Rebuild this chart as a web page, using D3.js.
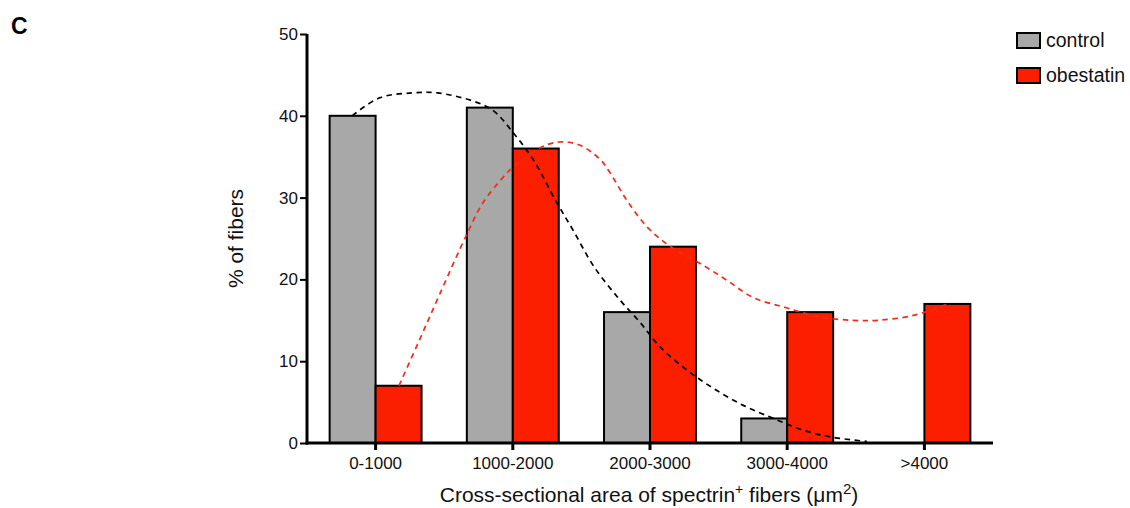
<!DOCTYPE html>
<html><head><meta charset="utf-8">
<script src="https://cdn.jsdelivr.net/npm/d3@7"></script>
<style>
body{margin:0;background:#fff;}
svg{display:block;font-family:"Liberation Sans",Arial,sans-serif;}
</style></head>
<body><svg id="chart" width="1130" height="508"></svg>
<script>
const categories = ["0-1000","1000-2000","2000-3000","3000-4000",">4000"];
const seriesNames = ["control","obestatin"];
const controlValues = [40, 41, 16, 3, 0];
const obestatinValues = [7, 36, 24, 16, 17];
const yTicks = [0,10,20,30,40,50];
// fitted curves: x in bin-index units (0 = centre of first bin), y in %
const controlCurveX = [-0.17,0.03,0.27,0.45,0.71,0.86,1.00,1.15,1.32,1.44,1.59,1.78,1.93,2.07,2.27,2.46,2.68,2.90,3.11,3.33,3.58];
const controlCurveY = [40.0,42.2,42.8,42.8,41.8,40.6,38.0,34.6,29.4,26.0,21.6,17.5,14.7,11.8,8.9,6.7,4.6,3.0,1.6,0.7,0.2];
const obestatinCurveX = [0.17,0.32,0.47,0.67,0.78,0.93,1.00,1.20,1.34,1.49,1.64,1.71,1.83,1.98,2.15,2.36,2.56,2.75,3.00,3.24,3.48,3.66,3.92,4.17];
const obestatinCurveY = [7.0,12.6,18.3,25.7,29.3,32.5,33.7,36.1,36.8,36.4,34.6,33.0,29.7,26.4,24.0,22.0,19.9,17.8,16.5,15.4,15.0,15.0,15.6,17.0];

(function(){
const colors = {control:"#a8a8a8", obestatin:"#fb1f00"};
const curveColors = {control:"#000", obestatin:"#f52a1a"};
const FONT = "Liberation Sans, Arial, sans-serif";

const svg = d3.select("#chart");
const pL=307, pR=993, pT=34, pB=443;

const x0 = d3.scaleBand().domain(categories).range([pL,pR]).paddingInner(0.33).paddingOuter(0.165);
const x1 = d3.scaleBand().domain(seriesNames).range([0, x0.bandwidth()]);
const y = d3.scaleLinear().domain([0,50]).range([pB,pT]);
const xc = d3.scaleLinear().domain([0,4]).range([x0(categories[0])+x0.bandwidth()/2, x0(categories[4])+x0.bandwidth()/2]);

const values = {control:controlValues, obestatin:obestatinValues};

// bars
seriesNames.forEach(s=>{
  svg.append("g").selectAll("rect")
    .data(categories.map((c,i)=>({c, v:values[s][i]})).filter(d=>d.v>0))
    .join("rect")
    .attr("x", d=>x0(d.c)+x1(s))
    .attr("y", d=>y(d.v))
    .attr("width", x1.bandwidth())
    .attr("height", d=>y(0)-y(d.v))
    .attr("fill", colors[s])
    .attr("stroke","#000")
    .attr("stroke-width",2);
});

// curves
const line = d3.line().x(d=>xc(d[0])).y(d=>y(d[1])).curve(d3.curveCatmullRom.alpha(0.5));
[["control",controlCurveX,controlCurveY],["obestatin",obestatinCurveX,obestatinCurveY]].forEach(([s,xs,ys])=>{
  svg.append("path")
    .datum(xs.map((xv,i)=>[xv,ys[i]]))
    .attr("d", line)
    .attr("fill","none")
    .attr("stroke", curveColors[s])
    .attr("stroke-width",1.7)
    .attr("stroke-dasharray","5.5,4.5");
});

// y axis
const yAxis = svg.append("g").attr("transform",`translate(${pL},0)`)
  .call(d3.axisLeft(y).tickValues(yTicks).tickSize(7).tickPadding(2));
yAxis.select(".domain").attr("stroke","#000").attr("stroke-width",3).attr("d",`M0,${pB+1.5}V${pT}`);
yAxis.selectAll(".tick line").attr("stroke","#000").attr("stroke-width",2);
yAxis.selectAll(".tick text").attr("font-size",17).attr("fill","#111").attr("font-family",FONT);

// x axis
const xAxis = svg.append("g").attr("transform",`translate(0,${pB})`)
  .call(d3.axisBottom(x0).tickSize(7).tickPadding(7));
xAxis.select(".domain").attr("stroke","#000").attr("stroke-width",3).attr("d",`M${pL-1.5},0H${pR}`);
xAxis.selectAll(".tick line").attr("stroke","#000").attr("stroke-width",3);
xAxis.selectAll(".tick text").attr("font-size",17).attr("fill","#111").attr("font-family",FONT);

// axis titles
svg.append("text")
  .attr("transform",`translate(243,${(pT+pB)/2}) rotate(-90)`)
  .attr("text-anchor","middle").attr("font-size",21).attr("fill","#111")
  .text("% of fibers");

const xt = svg.append("text").attr("x",649).attr("y",502)
  .attr("text-anchor","middle").attr("font-size",21).attr("fill","#111");
xt.append("tspan").text("Cross-sectional area of spectrin");
xt.append("tspan").attr("dy",-8).attr("font-size",14).text("+");
xt.append("tspan").attr("dy",8).text(" fibers (\u03BCm");
xt.append("tspan").attr("dy",-8).attr("font-size",15).text("2");
xt.append("tspan").attr("dy",8).text(")");

// panel label
svg.append("text").attr("x",11).attr("y",34).attr("font-size",23).attr("font-weight","bold").attr("fill","#000").text("C");

// legend
const lg = svg.append("g");
seriesNames.forEach((s,i)=>{
  const gy = 33 + i*35;
  lg.append("rect").attr("x",1017).attr("y",gy).attr("width",23).attr("height",15)
    .attr("fill",colors[s]).attr("stroke","#000").attr("stroke-width",2);
  lg.append("text").attr("x",1046).attr("y",gy+14).attr("font-size",19.5).attr("fill","#111").text(s);
});
})();
</script></body></html>
